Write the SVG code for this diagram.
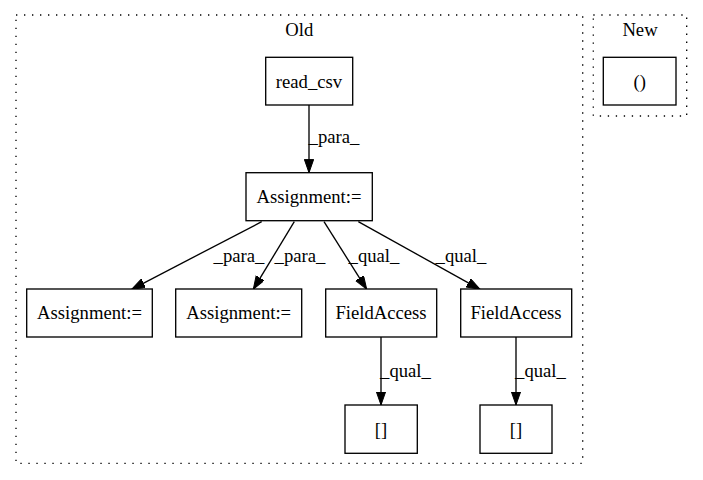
<svg xmlns="http://www.w3.org/2000/svg" width="703" height="480" viewBox="0 0 703 480">
<style>
text { font-family: "Liberation Serif", "Times New Roman", serif; font-size: 18.67px; fill: #000; }
.node rect { fill: #fff; stroke: #000; stroke-width: 1.33; }
.cluster rect { fill: none; stroke: #000; stroke-width: 1.33; stroke-dasharray: 1.33 6.67; }
.edges line { stroke: #000; stroke-width: 1.33; fill: none; }
</style>
<defs>
<marker id="ah" markerUnits="userSpaceOnUse" markerWidth="14" markerHeight="10" refX="13.3" refY="4.67" orient="auto">
<path d="M0,0 L13.3,4.67 L0,9.33 z" fill="#000" stroke="#000" stroke-width="1"/>
</marker>
</defs>
<rect width="703" height="480" fill="#fff"/>
<g id="cluster_old" class="cluster">
<rect x="16" y="15" width="566.7" height="448.3"/>
<text x="299.3" y="36" text-anchor="middle">Old</text>
</g>
<g id="cluster_new" class="cluster">
<rect x="593.3" y="15" width="93.4" height="101"/>
<text x="640" y="36" text-anchor="middle">New</text>
</g>
<g class="edges" id="edges">
<line x1="309" y1="105" x2="309" y2="172.7" marker-end="url(#ah)"/>
<text x="334" y="143" text-anchor="middle">_para_</text>
<line x1="261.7" y1="221.7" x2="131.7" y2="289.3" marker-end="url(#ah)"/>
<text x="239" y="262" text-anchor="middle">_para_</text>
<line x1="294.3" y1="221.7" x2="253.3" y2="289.3" marker-end="url(#ah)"/>
<text x="300" y="262" text-anchor="middle">_para_</text>
<line x1="324" y1="221.7" x2="366.7" y2="289.3" marker-end="url(#ah)"/>
<text x="374" y="262" text-anchor="middle">_qual_</text>
<line x1="358.3" y1="221.7" x2="480" y2="289.3" marker-end="url(#ah)"/>
<text x="461" y="262" text-anchor="middle">_qual_</text>
<line x1="381" y1="337" x2="381" y2="405" marker-end="url(#ah)"/>
<text x="405.5" y="377" text-anchor="middle">_qual_</text>
<line x1="516" y1="337" x2="516" y2="405" marker-end="url(#ah)"/>
<text x="540.5" y="377" text-anchor="middle">_qual_</text>
</g>
<g id="read_csv" class="node">
<rect x="265.7" y="57.3" width="87" height="47.7"/>
<text x="309" y="87.5" text-anchor="middle">read_csv</text>
</g>
<g id="assign_top" class="node">
<rect x="246" y="172.7" width="126.3" height="48"/>
<text x="309" y="203" text-anchor="middle">Assignment:=</text>
</g>
<g id="assign_1" class="node">
<rect x="26.7" y="289" width="125.6" height="48"/>
<text x="89.5" y="319.3" text-anchor="middle">Assignment:=</text>
</g>
<g id="assign_2" class="node">
<rect x="175.7" y="289" width="126" height="48"/>
<text x="238.7" y="319.3" text-anchor="middle">Assignment:=</text>
</g>
<g id="fieldaccess_1" class="node">
<rect x="325.7" y="289" width="111" height="48"/>
<text x="381" y="319.3" text-anchor="middle">FieldAccess</text>
</g>
<g id="fieldaccess_2" class="node">
<rect x="460.7" y="289" width="111" height="48"/>
<text x="516" y="319.3" text-anchor="middle">FieldAccess</text>
</g>
<g id="index_1" class="node">
<rect x="345" y="405" width="72.3" height="48.3"/>
<text x="381" y="435.5" text-anchor="middle">[]</text>
</g>
<g id="index_2" class="node">
<rect x="480" y="405" width="72" height="48.3"/>
<text x="516" y="435.5" text-anchor="middle">[]</text>
</g>
<g id="call_new" class="node">
<rect x="603.3" y="57.3" width="72.7" height="47.7"/>
<text x="639.7" y="87.5" text-anchor="middle">()</text>
</g>
</svg>
